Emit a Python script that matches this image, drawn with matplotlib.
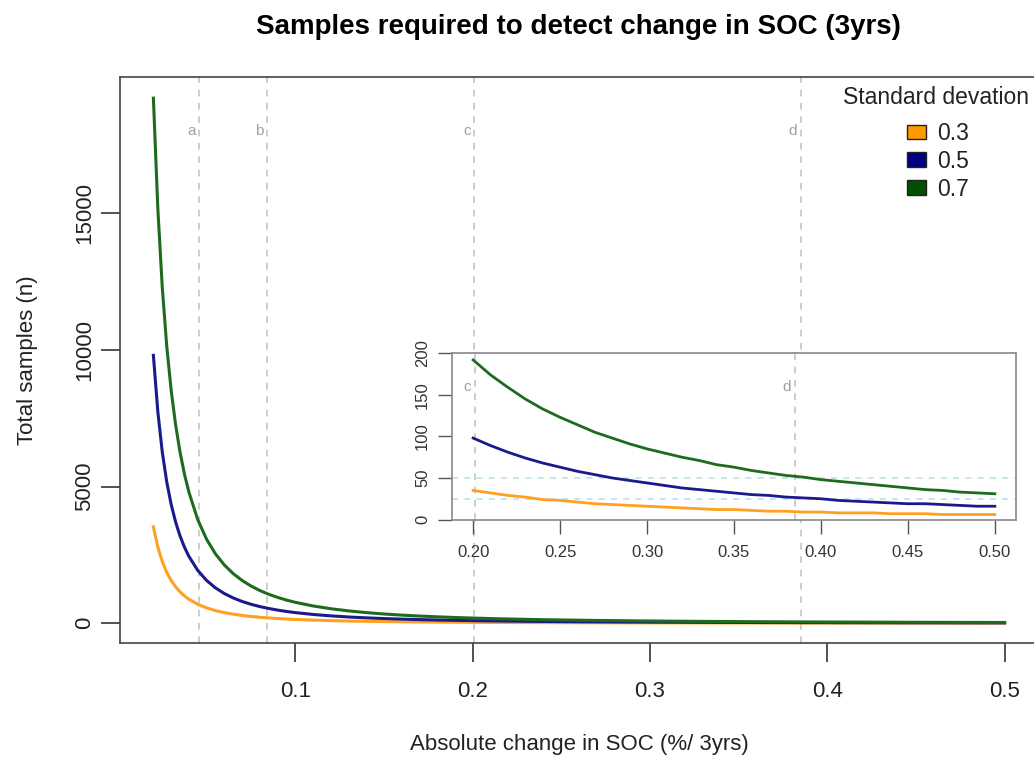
import matplotlib
matplotlib.use('Agg')
import matplotlib.pyplot as plt
from matplotlib.patches import Patch

plt.rcParams['font.family'] = ['Liberation Sans', 'DejaVu Sans']

# change in SOC (%/3yrs) and samples
delta = [0.02, 0.0225, 0.025, 0.0275, 0.03, 0.0325, 0.035, 0.0375, 0.04,
         0.045, 0.05, 0.055, 0.06, 0.065, 0.07, 0.075, 0.08, 0.085, 0.09, 0.095, 0.1,
         0.11, 0.12, 0.13, 0.14, 0.15, 0.16, 0.17, 0.18, 0.19, 0.2,
         0.21, 0.22, 0.23, 0.24, 0.25, 0.26, 0.27, 0.28, 0.29, 0.3,
         0.31, 0.32, 0.33, 0.34, 0.35, 0.36, 0.37, 0.38, 0.39, 0.4,
         0.41, 0.42, 0.43, 0.44, 0.45, 0.46, 0.47, 0.48, 0.49, 0.5]
n_sd03 = [3528, 2787, 2258, 1866, 1568, 1336, 1152, 1003, 882,
          697, 564, 466, 392, 334, 288, 251, 220, 195, 174, 156, 141,
          117, 98, 83, 72, 63, 55, 49, 44, 39, 35,
          32, 29, 27, 24, 23, 21, 19, 18, 17, 16,
          15, 14, 13, 12, 12, 11, 10, 10, 9, 9,
          8, 8, 8, 7, 7, 7, 6, 6, 6, 6]
n_sd05 = [9800, 7743, 6272, 5183, 4356, 3711, 3200, 2788, 2450,
          1936, 1568, 1296, 1089, 928, 800, 697, 613, 543, 484, 434, 392,
          324, 272, 232, 200, 174, 153, 136, 121, 109, 98,
          89, 81, 74, 68, 63, 58, 54, 50, 47, 44,
          41, 38, 36, 34, 32, 30, 29, 27, 26, 25,
          23, 22, 21, 20, 19, 19, 18, 17, 16, 16]
n_sd07 = [19208, 15177, 12293, 10159, 8537, 7274, 6272, 5463, 4802,
          3794, 3073, 2540, 2134, 1818, 1568, 1366, 1200, 1063, 949, 851, 768,
          635, 534, 455, 392, 341, 300, 266, 237, 213, 192,
          174, 159, 145, 133, 123, 114, 105, 98, 91, 85,
          80, 75, 71, 66, 63, 59, 56, 53, 51, 48,
          46, 44, 42, 40, 38, 36, 35, 33, 32, 31]

sd_labels = ['0.3', '0.5', '0.7']
colors = ['#FFA020', '#1A1A8C', '#1E6B1E']
fills = ['#FF9900', '#000080', '#005000']

marks = ['a', 'b', 'c', 'd']
mark_x = [0.046, 0.084, 0.201, 0.385]
inset_marks = ['c', 'd']
inset_hlines = [25, 50]

series = [n_sd03, n_sd05, n_sd07]

fig = plt.figure(figsize=(10.34, 7.57), dpi=100)
ax = fig.add_axes([0.1161, 0.1502, 0.8884, 0.7477])

for i in range(len(marks)):
    ax.axvline(mark_x[i], color='#C4C4C4', lw=1.2, ls=(0, (4, 4)), zorder=1)
    ax.text(mark_x[i] - 0.002, 18000, marks[i], color='#A0A0A0', fontsize=11,
            ha='right', va='center')

for s, c in zip(series, colors):
    ax.plot(delta, s, color=c, lw=2.2, zorder=3)

ax.set_xlim(0.0012, 0.5192)
ax.set_ylim(-731, 19971)
ax.set_xticks([0.1, 0.2, 0.3, 0.4, 0.5])
ax.set_xticklabels(['0.1', '0.2', '0.3', '0.4', '0.5'])
ax.set_yticks([0, 5000, 10000, 15000])
ax.tick_params(axis='both', direction='out', length=14, width=1.2,
               color='#333333', labelsize=16, labelcolor='#222222')
ax.tick_params(axis='x', pad=13)
ax.tick_params(axis='y', pad=4, labelrotation=90)
plt.setp(ax.get_yticklabels(), va='center')
for sp in ax.spines.values():
    sp.set_color('#444444')
    sp.set_linewidth(1.2)

ax.set_xlabel('Absolute change in SOC (%/ 3yrs)', fontsize=16, labelpad=23, color='#222222')
ax.set_ylabel('Total samples (n)', fontsize=16, labelpad=26, color='#222222')
fig.text(0.559, 0.964, 'Samples required to detect change in SOC (3yrs)',
         fontsize=20, fontweight='bold', ha='center', va='center')

# legend: title drawn as its own text so the gap matches
fig.text(936 / 1034, 1 - 98 / 757, 'Standard devation', fontsize=16.5,
         ha='center', va='center', color='#222222')
handles = [Patch(facecolor=f, edgecolor='#222222', lw=1.0) for f in fills]
leg = ax.legend(handles, sd_labels, loc='upper center',
                bbox_to_anchor=(938 / 1034, 1 - 122 / 757),
                bbox_transform=fig.transFigure, frameon=False, fontsize=16.5,
                handlelength=0.8, handleheight=0.6,
                handletextpad=0.5, labelspacing=0.21, borderpad=0,
                borderaxespad=0)
for t in leg.get_texts():
    t.set_color('#222222')

# inset zoom on 0.2 - 0.5
axi = fig.add_axes([0.4374, 0.3137, 0.5449, 0.2196])
for y in inset_hlines:
    axi.axhline(y, color='#B8DDEA', lw=1.1, ls=(0, (4, 4)), zorder=1)
for m in inset_marks:
    xv = mark_x[marks.index(m)]
    axi.axvline(xv, color='#C4C4C4', lw=1.2, ls=(0, (4, 4)), zorder=1)
    axi.text(xv - 0.002, 160, m, color='#A0A0A0', fontsize=11,
             ha='right', va='center')
start = delta.index(0.2)
for s, c in zip(series, colors):
    axi.plot(delta[start:], s[start:], color=c, lw=2.0, zorder=3)
axi.set_xlim(0.188, 0.512)
axi.set_ylim(0, 200)
axi.set_xticks([0.2, 0.25, 0.3, 0.35, 0.4, 0.45, 0.5])
axi.set_xticklabels(['0.20', '0.25', '0.30', '0.35', '0.40', '0.45', '0.50'])
axi.set_yticks([0, 50, 100, 150, 200])
axi.tick_params(axis='both', direction='out', length=10, width=1.0,
                color='#555555', labelsize=12, labelcolor='#333333')
axi.tick_params(axis='x', pad=8)
axi.tick_params(axis='y', pad=6, labelrotation=90)
plt.setp(axi.get_yticklabels(), va='center')
for sp in axi.spines.values():
    sp.set_color('#888888')
    sp.set_linewidth(1.2)

fig.savefig('out.png', dpi=100)
